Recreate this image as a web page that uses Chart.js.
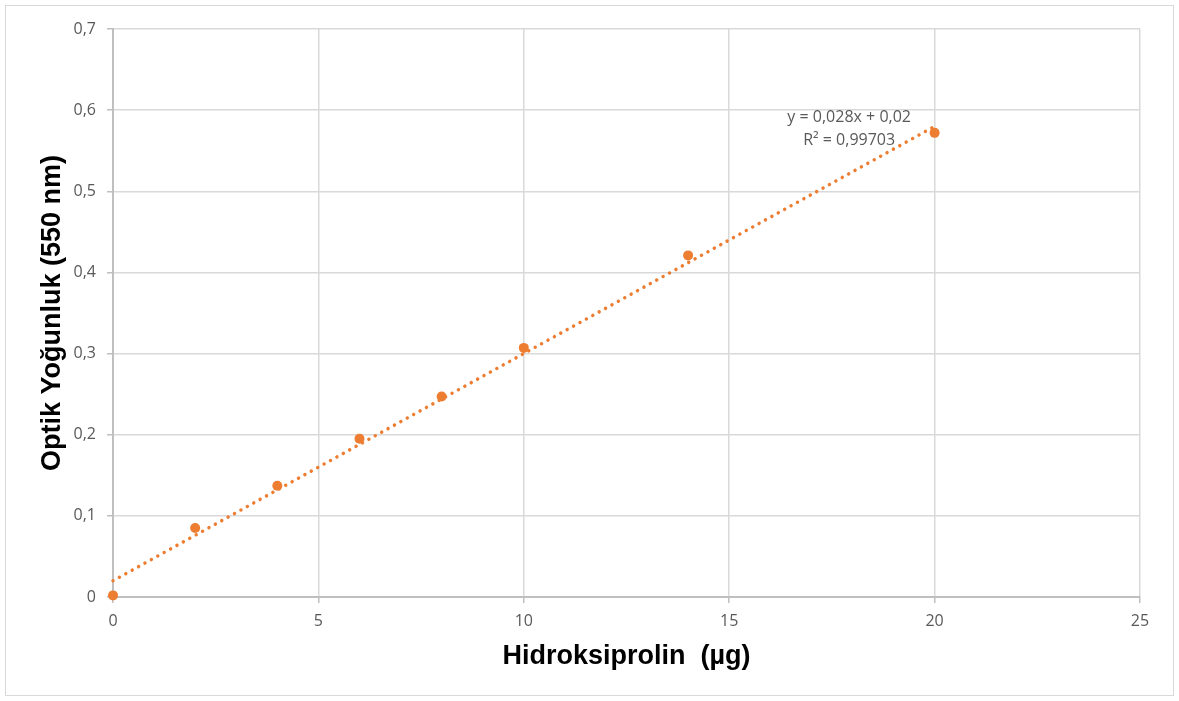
<!DOCTYPE html>
<html>
<head>
<meta charset="utf-8">
<script src="https://cdn.jsdelivr.net/npm/chart.js@4.4.0/dist/chart.umd.min.js"></script>
<style>
  html, body { margin: 0; padding: 0; background: #ffffff; }
  #wrap { position: relative; width: 1179px; height: 701px; }
  #frame { position: absolute; left: 5px; top: 5px; width: 1167px; height: 689px; border: 1px solid #d9d9d9; pointer-events: none; }
  canvas { position: absolute; left: 0; top: 0; }
</style>
</head>
<body>
<div id="wrap">
  <canvas id="c" width="1179" height="701"></canvas>
  <div id="frame"></div>
</div>
<script>
// Data
const hydroxyprolineUg = [0, 2, 4, 6, 8, 10, 14, 20];
const opticalDensity   = [0.002, 0.085, 0.137, 0.195, 0.247, 0.307, 0.421, 0.572];
const trendX = [0, 20];
const trendY = [0.02, 0.58];
const yTickLabels = ['0', '0,1', '0,2', '0,3', '0,4', '0,5', '0,6', '0,7'];
const xTickLabels = ['0', '5', '10', '15', '20', '25'];
const equationLines = ['y = 0,028x + 0,02', 'R² = 0,99703'];
const equationAnchorX = 17.92;
const equationAnchorY = [0.5915, 0.563];

const ORANGE = '#ED7D31';
const GRID = '#d9d9d9';
const AXIS = '#bfbfbf';
const TEXT = '#595959';

const points = hydroxyprolineUg.map((x, i) => ({ x: x, y: opticalDensity[i] }));
const trend = trendX.map((x, i) => ({ x: x, y: trendY[i] }));

const equationPlugin = {
  id: 'equation',
  afterDatasetsDraw(chart) {
    const { ctx, scales } = chart;
    ctx.save();
    ctx.font = '16px "Open Sans"';
    ctx.fillStyle = TEXT;
    ctx.textAlign = 'center';
    ctx.textBaseline = 'middle';
    const px = scales.x.getPixelForValue(equationAnchorX);
    equationLines.forEach((t, i) => {
      ctx.fillText(t, px, scales.y.getPixelForValue(equationAnchorY[i]));
    });
    ctx.restore();
  }
};

new Chart(document.getElementById('c'), {
  type: 'scatter',
  data: {
    datasets: [
      {
        type: 'line',
        label: 'Trend',
        data: trend,
        borderColor: ORANGE,
        borderWidth: 3.5,
        borderDash: [0.01, 7.3],
        borderCapStyle: 'round',
        pointRadius: 0,
        fill: false,
        tension: 0,
        clip: false
      },
      {
        label: 'Optik Yoğunluk',
        data: points,
        backgroundColor: ORANGE,
        borderColor: ORANGE,
        pointRadius: 5,
        pointHoverRadius: 5,
        borderWidth: 0,
        clip: false
      }
    ]
  },
  options: {
    responsive: false,
    animation: false,
    layout: { padding: { left: 0, right: 39, top: 29, bottom: 0 } },
    plugins: { legend: { display: false }, tooltip: { enabled: false } },
    scales: {
      x: {
        type: 'linear',
        min: 0, max: 25,
        afterFit(scale) { scale.height = 104; },
        afterBuildTicks(scale) {
          scale.ticks = xTickLabels.map(v => ({ value: Number(v) }));
        },
        ticks: {
          color: TEXT,
          font: { family: 'Open Sans', size: 16 },
          padding: 9,
          autoSkip: false,
          maxRotation: 0,
          callback: (v, i) => xTickLabels[i]
        },
        grid: { color: GRID, lineWidth: 1.5, tickColor: AXIS, tickLength: 6 },
        border: { color: AXIS, width: 2 },
        title: {
          display: true,
          text: 'Hidroksiprolin  (µg)',
          color: '#000000',
          font: { family: 'Liberation Sans', size: 27, weight: 'bold' },
          padding: { top: 0, bottom: 28 }
        }
      },
      y: {
        type: 'linear',
        min: 0, max: 0.7,
        afterFit(scale) { scale.width = 113; },
        afterBuildTicks(scale) {
          scale.ticks = yTickLabels.map((_, i) => ({ value: i / 10 }));
        },
        ticks: {
          color: TEXT,
          font: { family: 'Open Sans', size: 16 },
          padding: 11,
          autoSkip: false,
          callback: (v, i) => yTickLabels[i]
        },
        grid: { color: GRID, lineWidth: 1.5, tickColor: AXIS, tickLength: 6 },
        border: { color: AXIS, width: 2 },
        title: {
          display: true,
          text: 'Optik Yoğunluk (550 nm)',
          color: '#000000',
          font: { family: 'Liberation Sans', size: 27, weight: 'bold' },
          padding: { top: 36, bottom: 0 }
        }
      }
    }
  },
  plugins: [equationPlugin]
});
</script>
</body>
</html>
